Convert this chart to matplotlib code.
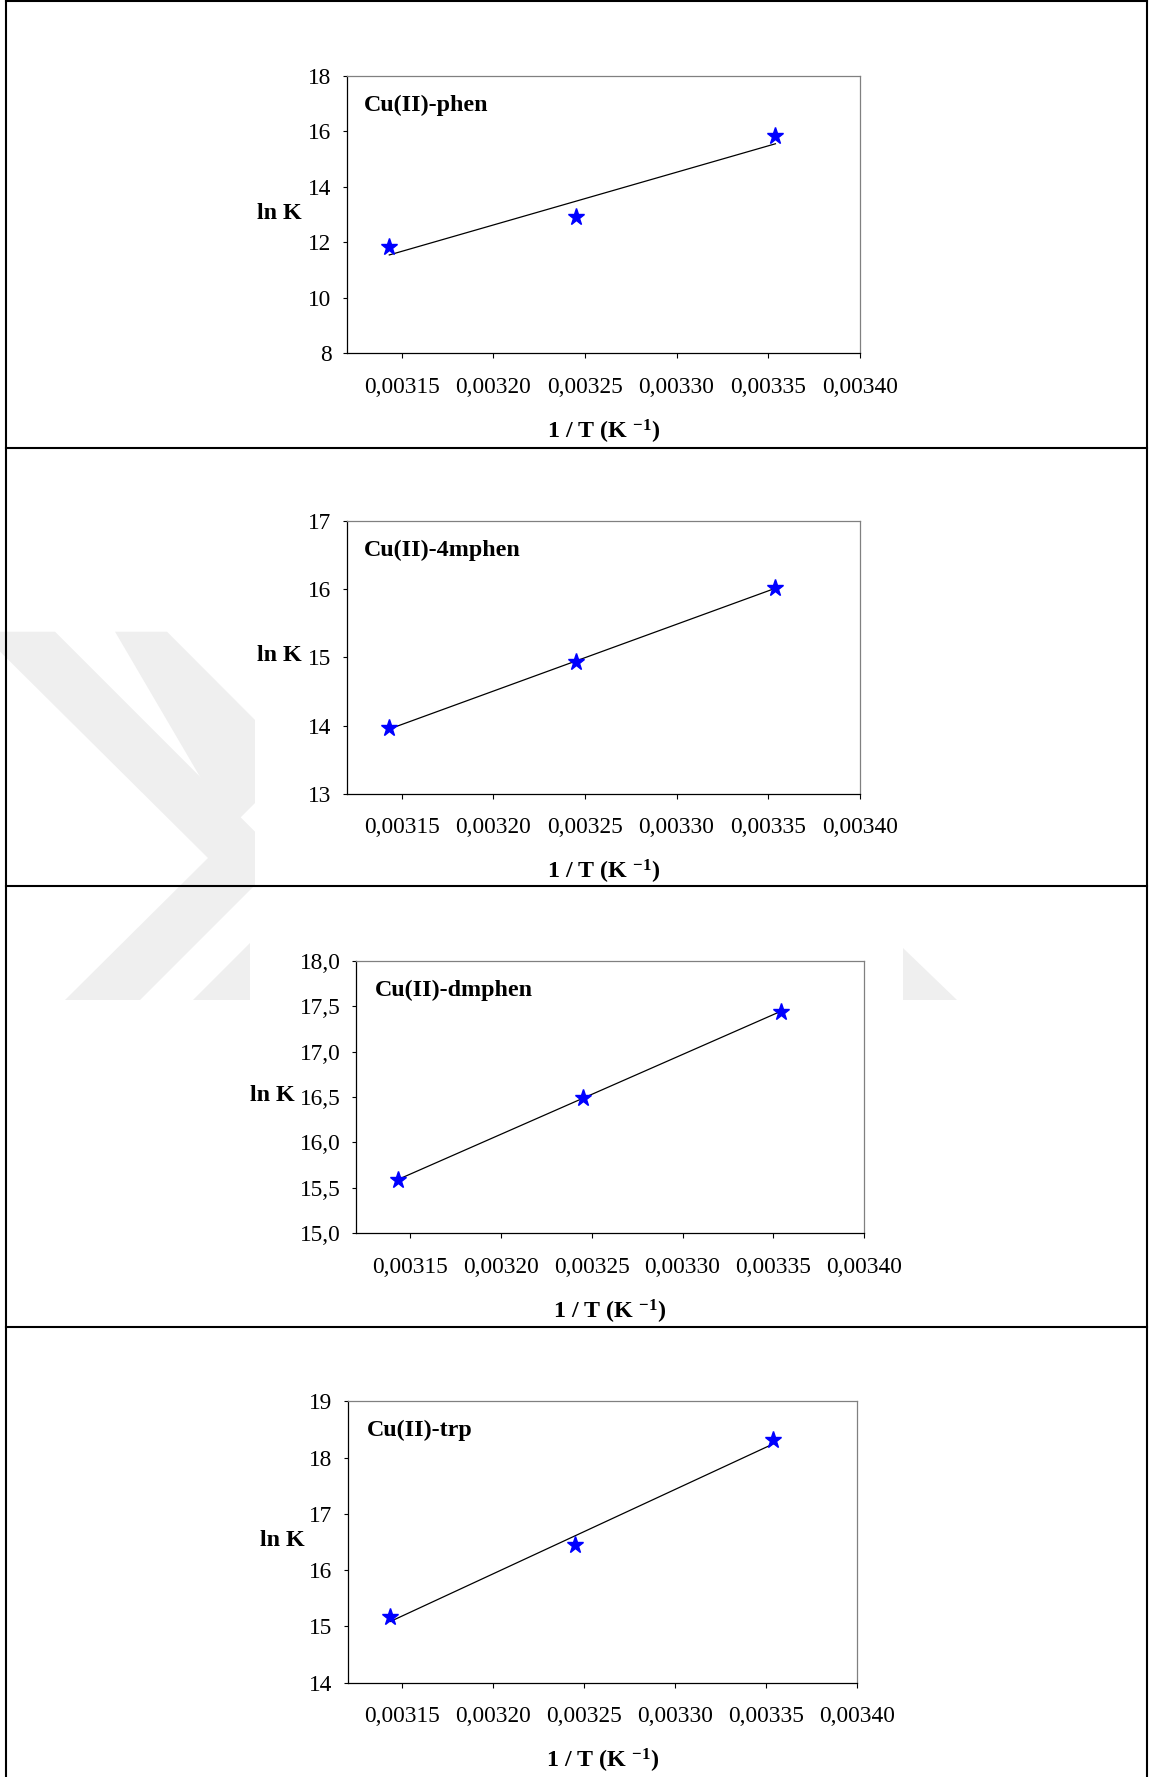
import numpy as np
import matplotlib
matplotlib.use("Agg")
import matplotlib.pyplot as plt
from matplotlib.lines import Line2D
from matplotlib.patches import Polygon
from matplotlib.ticker import FixedLocator, FuncFormatter

plt.rcParams["font.family"] = ["Liberation Serif", "DejaVu Serif"]
plt.rcParams["mathtext.fontset"] = "custom"
plt.rcParams["mathtext.rm"] = "Liberation Serif"
plt.rcParams["mathtext.it"] = "Liberation Serif:italic"
plt.rcParams["mathtext.bf"] = "Liberation Serif:bold"

# ---- data -------------------------------------------------------------
inv_T = [0.0031432, 0.0032452, 0.0033540]          # 1/T (K^-1)

lnK_phen = [11.85, 12.90, 15.84]
lnK_4mphen = [13.96, 14.93, 16.02]
lnK_dmphen = [15.59, 16.49, 17.44]
lnK_trp = [15.17, 16.45, 18.32]

complex_names = ["Cu(II)-phen", "Cu(II)-4mphen", "Cu(II)-dmphen", "Cu(II)-trp"]

x_ticks = [0.00315, 0.00320, 0.00325, 0.00330, 0.00335, 0.00340]
y_ticks_phen = [8, 10, 12, 14, 16, 18]
y_ticks_4mphen = [13, 14, 15, 16, 17]
y_ticks_dmphen = [15.0, 15.5, 16.0, 16.5, 17.0, 17.5, 18.0]
y_ticks_trp = [14, 15, 16, 17, 18, 19]

series = [lnK_phen, lnK_4mphen, lnK_dmphen, lnK_trp]
y_tick_sets = [y_ticks_phen, y_ticks_4mphen, y_ticks_dmphen, y_ticks_trp]
y_decimals = [0, 0, 1, 0]

# ---- layout (pixels) ------------------------------------------------
W, H = 1152, 1777
# left, top, right, bottom of each plot area
boxes = [
    (346.8, 76.0, 859.7, 353.3),
    (346.8, 520.7, 859.7, 794.0),
    (355.8, 960.7, 864.0, 1233.3),
    (348.0, 1401.3, 856.6, 1682.7),
]
ylabel_right = [302, 302, 295, 304.6]
caption_dx = [17.2, 17.2, 19.5, 18.6]
XLIM = (0.00312, 0.00340)

FS_TICK = 16.8
FS_LABEL = 17.3


def fx(px):
    return px / W


def fy(py):
    return 1 - py / H


fig = plt.figure(figsize=(W / 100, H / 100), dpi=100)
fig.patch.set_facecolor("white")

# faint background emblem
wm_color = "#efefef"
emblem = [
    [(-20, 631.7), (55, 631.7), (255, 831.7), (255, 885), (140, 1000), (65, 1000), (208, 858)],
    [(115, 631.7), (167, 631.7), (255, 720), (255, 803), (230, 828)],
    [(193, 1000), (250, 943), (250, 1000)],
    [(903, 948), (903, 1000), (957, 1000)],
]
for poly in emblem:
    fig.patches.append(Polygon([(fx(a), fy(b)) for a, b in poly], closed=True,
                               transform=fig.transFigure, facecolor=wm_color,
                               edgecolor="none", zorder=0))

# table frame
frame_lw = 1.5
frame_x0, frame_x1 = 6.0, 1147.0
for xv in (frame_x0, frame_x1):
    fig.add_artist(Line2D([fx(xv), fx(xv)], [fy(0), fy(H)], color="black",
                          lw=frame_lw, transform=fig.transFigure))
for yv in (1.0, 447.7, 886.0, 1326.7):
    fig.add_artist(Line2D([fx(frame_x0), fx(frame_x1)], [fy(yv), fy(yv)],
                          color="black", lw=frame_lw, transform=fig.transFigure))


def comma_fmt(decimals):
    def f(v, pos):
        return f"{v:.{decimals}f}".replace(".", ",")
    return f


for i, (name, lnK, yt, dec, box) in enumerate(
        zip(complex_names, series, y_tick_sets, y_decimals, boxes)):
    l, t, r, b = box
    ax = fig.add_axes([fx(l), fy(b), (r - l) / W, (b - t) / H])
    ax.set_facecolor("white")

    x = np.array(inv_T)
    y = np.array(lnK)
    coef = np.polyfit(x, y, 1)
    xs = np.array([x[0], x[-1]])
    ax.plot(xs, np.polyval(coef, xs), color="black", lw=0.9, zorder=2)
    ax.plot(x, y, linestyle="none", marker="*", ms=12.5, color="#0000ff",
            mec="#0000ff", zorder=3, clip_on=False)

    ax.set_xlim(*XLIM)
    ax.set_ylim(yt[0], yt[-1])
    ax.xaxis.set_major_locator(FixedLocator(x_ticks))
    ax.yaxis.set_major_locator(FixedLocator(yt))
    ax.xaxis.set_major_formatter(FuncFormatter(comma_fmt(5)))
    ax.yaxis.set_major_formatter(FuncFormatter(comma_fmt(dec)))

    ax.tick_params(axis="x", direction="out", length=3.6, width=0.8, pad=13.3,
                   labelsize=FS_TICK, colors="black")
    ax.tick_params(axis="y", direction="out", length=3.1, width=0.8, pad=8.0,
                   labelsize=FS_TICK, colors="black")

    for side in ("left", "bottom"):
        ax.spines[side].set_color("black")
        ax.spines[side].set_linewidth(0.9)
    for side in ("top", "right"):
        ax.spines[side].set_color("#808080")
        ax.spines[side].set_linewidth(0.9)

    # panel caption inside the plot area
    fig.text(fx(l + caption_dx[i]), fy(t + 35), name, fontsize=FS_LABEL,
             fontweight="bold", ha="left", va="baseline")
    # axis titles
    fig.text(fx((l + r) / 2), fy(b + 85), r"1 / T (K $^{\mathbf{-1}}$)",
             fontsize=FS_LABEL, fontweight="bold", ha="center", va="baseline")
    fig.text(fx(ylabel_right[i]), fy(t + 0.514 * (b - t)), "ln K",
             fontsize=FS_LABEL, fontweight="bold", ha="right", va="baseline")

fig.savefig("out.png", dpi=100, facecolor="white")
